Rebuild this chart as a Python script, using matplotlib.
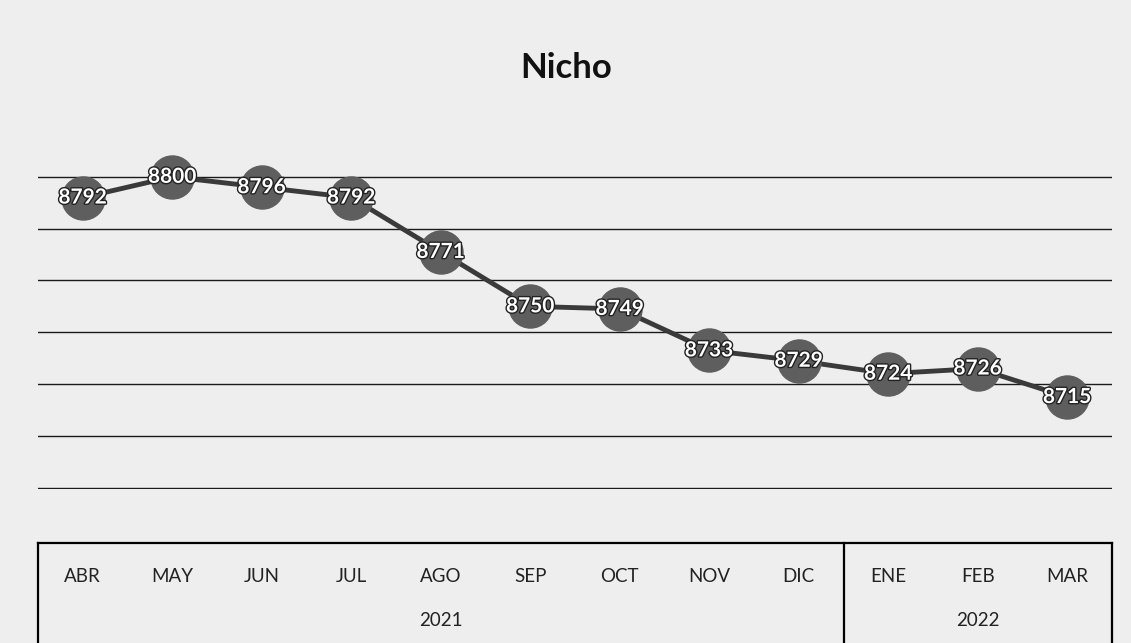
import matplotlib
matplotlib.use("Agg")
import matplotlib.pyplot as plt
import matplotlib.patheffects as pe
from matplotlib.transforms import blended_transform_factory

months = ["ABR", "MAY", "JUN", "JUL", "AGO", "SEP", "OCT", "NOV", "DIC", "ENE", "FEB", "MAR"]
values = [8792, 8800, 8796, 8792, 8771, 8750, 8749, 8733, 8729, 8724, 8726, 8715]
years = ["2021", "2022"]
year_sizes = [9, 3]

plt.rcParams['font.family'] = ['Lato', 'DejaVu Sans']

fig = plt.figure(figsize=(11.31, 6.43), dpi=100, facecolor="#eeeeee")
ax = fig.add_axes([38 / 1131, 1 - 489 / 643, (1112 - 38) / 1131, (489 - 125) / 643])
ax.set_facecolor("none")

x = list(range(len(months)))
ax.set_xlim(-0.5, len(months) - 0.5)
ax.set_ylim(8679.5, 8820)
ax.set_yticks(range(8680, 8801, 20))
ax.yaxis.grid(True, color="#1a1a1a", linewidth=1.0)
ax.set_axisbelow(True)
ax.tick_params(left=False, bottom=False, labelleft=False, labelbottom=False)
for s in ax.spines.values():
    s.set_visible(False)

ax.plot(x, values, color="#3a3a3a", linewidth=3.5, marker="o", markersize=31,
        markerfacecolor="#5e5e5e", markeredgecolor="#5e5e5e", zorder=3)

for xi, v in zip(x, values):
    ax.text(xi, v, str(v), ha="center", va="center", color="white", fontsize=15,
            fontweight="bold", zorder=4,
            path_effects=[pe.withStroke(linewidth=2, foreground="#222222")])

fig.text(566 / 1131, 1 - 68 / 643, "Nicho", ha="center", va="center",
         fontsize=25, fontweight="bold", color="#111111")

# category axis box
tr = blended_transform_factory(ax.transData, ax.transAxes)
y_top = (489 - 543) / 364
y_bot = (489 - 643) / 364
ax.plot([-0.5, len(months) - 0.5], [y_top, y_top], color="black", linewidth=1.6,
        transform=tr, clip_on=False)
edges = [-0.5]
for n in year_sizes:
    edges.append(edges[-1] + n)
for e in edges:
    ax.plot([e, e], [y_top, y_bot], color="black", linewidth=1.6, transform=tr, clip_on=False)

for xi, m in zip(x, months):
    ax.text(xi, (489 - 576) / 364, m, ha="center", va="center", fontsize=13.5,
            color="#222222", transform=tr)
for i, yr in enumerate(years):
    ax.text((edges[i] + edges[i + 1]) / 2, (489 - 620) / 364, yr, ha="center",
            va="center", fontsize=13.5, color="#222222", transform=tr)

fig.savefig("out.png", dpi=100, facecolor=fig.get_facecolor())
